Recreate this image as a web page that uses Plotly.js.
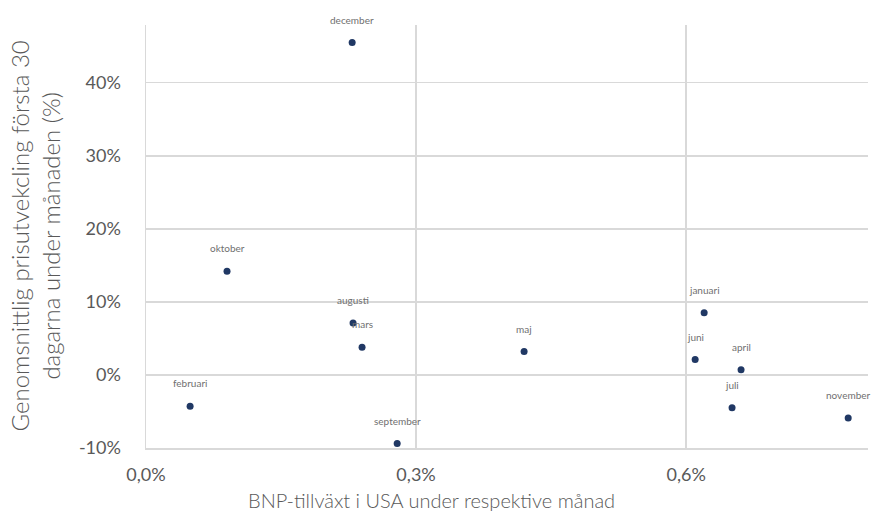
<!DOCTYPE html>
<html>
<head>
<meta charset="utf-8">
<script src="https://cdn.plot.ly/plotly-3.0.1.min.js"></script>
<style>
  html, body { margin: 0; padding: 0; background: #ffffff; }
  #chart { width: 873px; height: 530px; }
</style>
</head>
<body>
<div id="chart"></div>
<script>
// Månad, BNP-tillväxt i USA (%) och genomsnittlig prisutveckling (%)
const months = ['december', 'oktober', 'augusti', 'mars', 'februari', 'september',
                'maj', 'januari', 'juni', 'april', 'juli', 'november'];
const gdpGrowth = [0.229, 0.090, 0.230, 0.240, 0.049, 0.279,
                   0.420, 0.620, 0.610, 0.661, 0.651, 0.780];
const priceChange = [45.5, 14.2, 7.1, 3.8, -4.3, -9.4,
                     3.2, 8.5, 2.1, 0.7, -4.5, -5.9];

const xTickVals = [0, 0.3, 0.6];
const xTickText = ['0,0%', '0,3%', '0,6%'];
const yTickVals = [-10, 0, 10, 20, 30, 40];
const yTickText = ['-10%', '0%', '10%', '20%', '30%', '40%'];

const xTitle = 'BNP-tillväxt i USA under respektive månad';
const yTitle = 'Genomsnittlig prisutvekcling första 30<br>dagarna under månaden (%)';

const FONT = 'Lato, "Open Sans", sans-serif';
const GRID = '#d9d9d9';

const trace = {
  type: 'scatter',
  mode: 'markers',
  x: gdpGrowth,
  y: priceChange,
  text: months,
  marker: { color: '#203864', size: 7 },
  hoverinfo: 'text+x+y'
};

// Month labels above each point
const pointLabels = months.map((m, i) => ({
  x: gdpGrowth[i],
  y: priceChange[i],
  xref: 'x',
  yref: 'y',
  text: m,
  showarrow: false,
  xanchor: 'center',
  yanchor: 'middle',
  yshift: 23,
  font: { family: FONT, size: 10, color: '#707070' }
}));

const titles = [
  {
    x: 0.395, y: 0, xref: 'paper', yref: 'paper',
    text: xTitle, showarrow: false,
    xanchor: 'center', yanchor: 'middle', yshift: -52,
    font: { family: FONT, size: 20, color: '#595959', weight: 300 }
  },
  {
    x: 0, y: 0.5, xref: 'paper', yref: 'paper',
    text: yTitle, showarrow: false, textangle: -90,
    xanchor: 'center', yanchor: 'middle', xshift: -112,
    font: { family: FONT, size: 24, color: '#595959', weight: 300 }
  }
];

const layout = {
  width: 873,
  height: 530,
  margin: { l: 146, r: 5, t: 25, b: 82 },
  paper_bgcolor: '#ffffff',
  plot_bgcolor: '#ffffff',
  showlegend: false,
  font: { family: FONT, color: '#595959' },
  xaxis: {
    range: [0, 0.802],
    tickvals: xTickVals,
    ticktext: xTickText,
    showgrid: true,
    gridcolor: GRID,
    gridwidth: 1.5,
    zeroline: false,
    showline: true,
    linecolor: GRID,
    linewidth: 1.5,
    ticks: 'outside',
    ticklen: 10,
    tickcolor: 'rgba(0,0,0,0)',
    tickfont: { family: FONT, size: 18, color: '#595959' }
  },
  yaxis: {
    range: [-10, 47.9],
    tickvals: yTickVals,
    ticktext: yTickText,
    showgrid: true,
    gridcolor: GRID,
    gridwidth: 1.5,
    zeroline: false,
    showline: true,
    linecolor: GRID,
    linewidth: 1.5,
    ticks: 'outside',
    ticklen: 20,
    tickcolor: 'rgba(0,0,0,0)',
    tickfont: { family: FONT, size: 18, color: '#595959' }
  },
  annotations: pointLabels.concat(titles)
};

Plotly.newPlot('chart', [trace], layout, { displayModeBar: false, staticPlot: true });
</script>
</body>
</html>
